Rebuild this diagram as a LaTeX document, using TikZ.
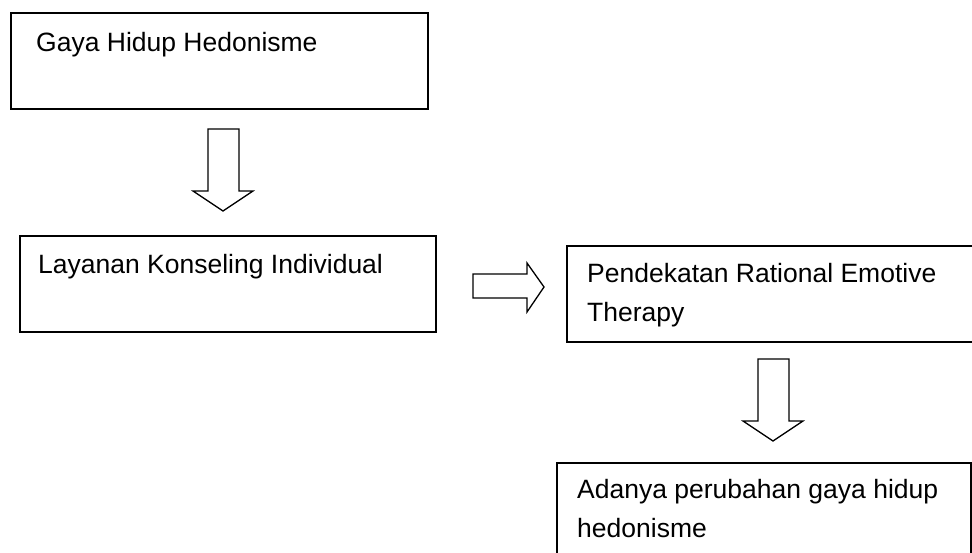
\documentclass[tikz,border=0pt]{standalone}
\usepackage{fontspec}
\setmainfont{Liberation Sans}
\begin{document}
\begin{tikzpicture}[x=1pt,y=-1pt,
  box/.style={draw, line width=1.8pt, rectangle, inner sep=0pt, anchor=north west},
  txt/.style={anchor=base west, inner sep=0pt, font=\fontsize{26.5}{38}\selectfont},
  blockarrow/.style={draw, line width=1.3pt, line join=miter}]
\useasboundingbox (0,0) rectangle (972,553);
\clip (0,0) rectangle (972,553);
% boxes
\node[box, minimum width=417pt, minimum height=96pt] (b1) at (10,12) {};
\node[box, minimum width=416pt, minimum height=96pt] (b2) at (19,235) {};
\node[box, minimum width=420pt, minimum height=96pt] (b3) at (566,245) {};
\node[box, minimum width=414pt, minimum height=110pt] (b4) at (556,462) {};
% texts
\node[txt] (t1) at (36,52) {Gaya Hidup Hedonisme};
\node[txt] (t2) at (38,274) {Layanan Konseling Individual};
\node[txt] (t3a) at (587,283) {Pendekatan Rational Emotive};
\node[txt] (t3b) at (587,322) {Therapy};
\node[txt] (t4a) at (577,498) {Adanya perubahan gaya hidup};
\node[txt] (t4b) at (577,537) {hedonisme};
% block arrows
\draw[blockarrow] (208,129) -- (239,129) -- (239,191) -- (253,191) -- (223,211) -- (193,191) -- (208,191) -- cycle;
\draw[blockarrow] (473,274) -- (527,274) -- (527,263) -- (544,287) -- (527,312) -- (527,298) -- (473,298) -- cycle;
\draw[blockarrow] (758,359) -- (789,359) -- (789,421) -- (803,421) -- (773,441) -- (743,421) -- (758,421) -- cycle;
\end{tikzpicture}
\end{document}
